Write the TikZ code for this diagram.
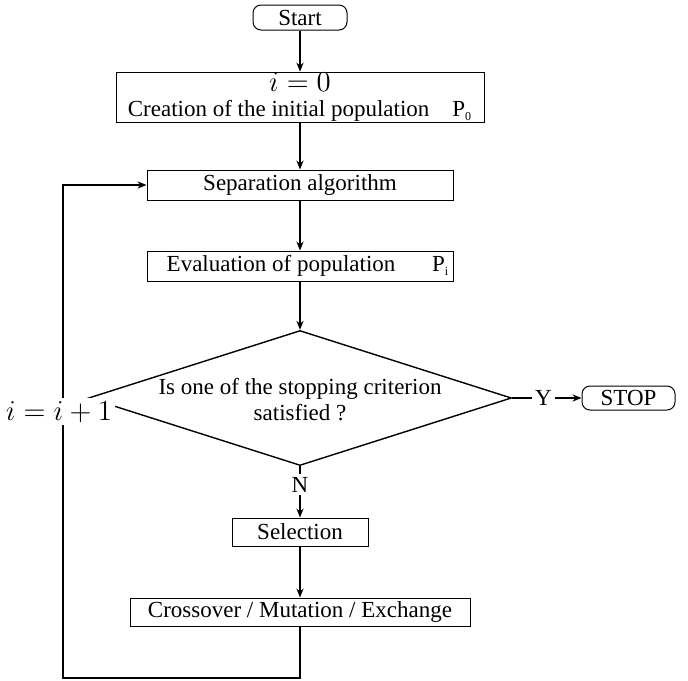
\documentclass[tikz,border=0pt]{standalone}
\usepackage{amsmath,amssymb}
\usepackage{fontspec}
\setmainfont{Liberation Serif}
\usetikzlibrary{shapes.geometric,arrows.meta}

\newcommand{\largemath}[1]{{\fontsize{13.3}{15}\selectfont$#1$}}
\newcommand{\popsub}[1]{\textsubscript{\fontsize{6}{7}\selectfont #1}}

\tikzset{
	txt/.style={font=\fontsize{11.5}{13}\selectfont},
	block/.style={draw, line width=0.5pt, rectangle, inner sep=1.5pt, txt},
	term/.style={block, rounded corners=4pt},
	decision/.style={draw, diamond, line width=0.7pt, inner sep=0pt},
	flow/.style={line width=0.7pt, -{Stealth[length=4.5pt,width=3.6pt]}},
	tag/.style={fill=white, inner sep=1.5pt, txt},
}

\begin{document}
\begin{tikzpicture}[x=0.5pt,y=-0.5pt]
	\useasboundingbox (0,0) rectangle (688,680);
	
	% boxes of the main column
	\node[term, minimum width=47pt, minimum height=12.5pt] (start) at (300,17.5) {Start};
	\node[block, minimum width=184pt, minimum height=24.5pt, inner sep=0.5pt, align=center] (init) at (300,97.5)
		{\largemath{i=0}\\[-0.5pt]Creation of the initial population\quad P\popsub{0}};
	\node[block, minimum width=153pt, minimum height=15pt] (sep) at (300,185) {Separation algorithm};
	\node[block, minimum width=153pt, minimum height=15pt, inner sep=0.5pt] (eval) at (300,266)
		{\hspace*{8pt}Evaluation of population\hspace{1.6em}P\popsub{i}};
	\node[decision, minimum width=211.5pt, minimum height=67.5pt] (test) at (300,398) {};
	\node[txt, align=center] (testtxt) at (300,400) {Is one of the stopping criterion\\satisfied ?};
	\node[block, minimum width=68pt, minimum height=14pt] (select) at (300,532) {Selection};
	\node[block, minimum width=170pt, minimum height=14pt] (cross) at (300,612) {Crossover / Mutation / Exchange};
	
	% exit
	\node[term, minimum width=46.5pt, minimum height=12pt] (stop) at (628.5,398) {STOP};
	
	\coordinate (back) at (63,678);
	
	\foreach \a/\b in
	{start/init, init/sep, sep/eval, eval/test, select/cross}{
		\draw[flow] (\a) -- (\b);
	}
	\draw[flow] (test) -- node[tag, pos=0.45]{Y} (stop);
	\draw[flow] (test) -- node[tag, pos=0.36]{N} (select);
	
	% loop back
	\draw[flow] (cross) |- (back) -- node[tag, pos=0.54, xshift=-2pt]{\largemath{i=i+1}} (back |- sep) -- (sep);
\end{tikzpicture}
\end{document}
